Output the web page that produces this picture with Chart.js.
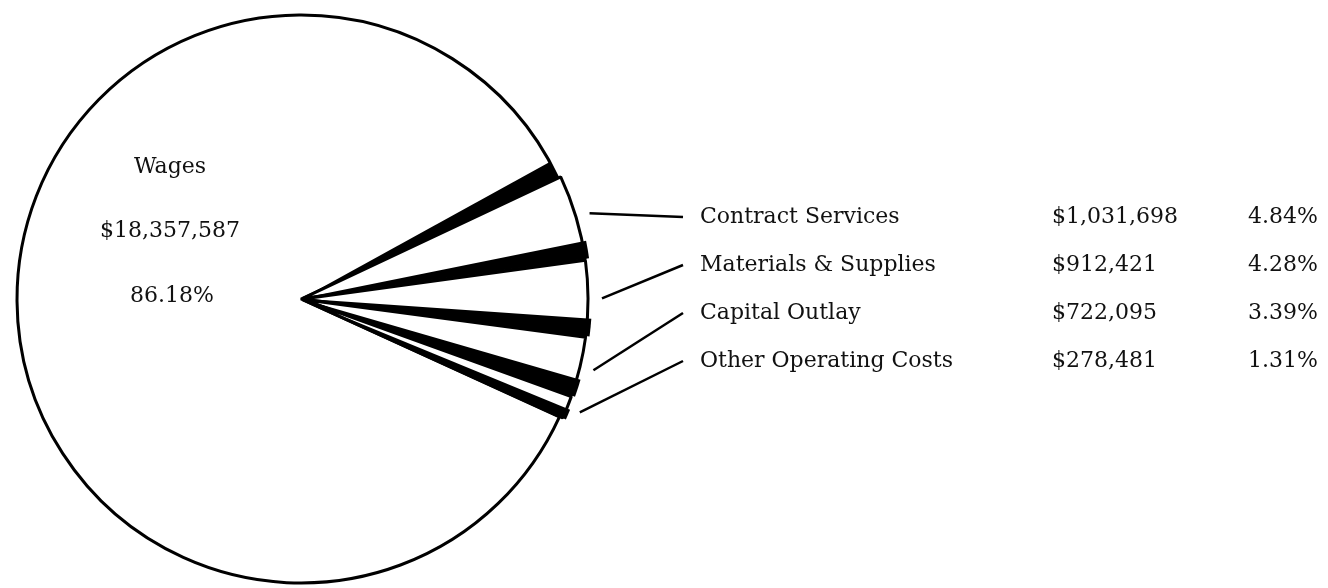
<!DOCTYPE html>
<html>
<head>
<meta charset="utf-8">
<script src="https://cdn.jsdelivr.net/npm/chart.js@4.4.0/dist/chart.umd.min.js"></script>
<style>
  body { margin: 0; background: #fff; }
  #wrap { width: 1328px; height: 588px; position: relative; }
</style>
</head>
<body>
<div id="wrap"><canvas id="pie-chart"></canvas></div>
<script>
// data
const categories = ['Wages', 'Contract Services', 'Materials & Supplies', 'Capital Outlay', 'Other Operating Costs'];
const amounts = [18357587, 1031698, 912421, 722095, 278481];
const percents = ['86.18', '4.84', '4.28', '3.39', '1.31'];

const FONT = "22px 'DejaVu Serif'";
const rowY = [217, 265, 313, 361];   // text rows for the small slices
const colX = [700, 1052, 1248];      // label / amount / percent columns
const sideBand = 3.6 * Math.PI / 180; // dark side face of each slice

function money(v) {
    return '$' + v.toLocaleString('en-US');
}

function sliceCenter(el) {
    var p = el.getProps(['x', 'y', 'startAngle', 'endAngle', 'outerRadius']);
    var off = el.options.offset || 0;
    var mid = (p.startAngle + p.endAngle) / 2;
    return {
        cx: p.x + Math.cos(mid) * off,
        cy: p.y + Math.sin(mid) * off,
        s: p.startAngle, e: p.endAngle, r: p.outerRadius, mid: mid
    };
}

// black side faces, like the shaded edges in the print
const sidesPlugin = {
    id: 'sides',
    afterDatasetsDraw(chart) {
        const ctx = chart.ctx;
        const arcs = chart.getDatasetMeta(0).data;
        ctx.save();
        ctx.fillStyle = '#000';
        arcs.forEach(el => {
            var g = sliceCenter(el);
            var band = Math.min(sideBand, (g.e - g.s) * 0.45);
            ctx.beginPath();
            ctx.moveTo(g.cx, g.cy);
            ctx.arc(g.cx, g.cy, g.r, g.e - band, g.e);
            ctx.closePath();
            ctx.fill();
        });
        ctx.restore();
    }
};

// text inside the big slice and the table to the right
const labelsPlugin = {
    id: 'labels',
    afterDraw(chart) {
        const ctx = chart.ctx;
        const arcs = chart.getDatasetMeta(0).data;
        ctx.save();
        ctx.font = FONT;
        ctx.fillStyle = '#111';
        ctx.textBaseline = 'middle';

        ctx.textAlign = 'center';
        ctx.fillText(categories[0], 170, 167);
        ctx.fillText(money(amounts[0]), 170, 231);
        ctx.fillText(percents[0] + '%', 172, 296);

        ctx.textAlign = 'left';
        ctx.strokeStyle = '#000';
        ctx.lineWidth = 2.5;
        for (var i = 1; i < categories.length; i++) {
            var g = sliceCenter(arcs[i]);
            var r0 = g.r + 10;
            ctx.beginPath();
            ctx.moveTo(g.cx + Math.cos(g.mid) * r0, g.cy + Math.sin(g.mid) * r0);
            ctx.lineTo(683, rowY[i - 1]);
            ctx.stroke();

            ctx.fillText(categories[i], colX[0], rowY[i - 1]);
            ctx.fillText(money(amounts[i]), colX[1], rowY[i - 1]);
            ctx.fillText(percents[i] + '%', colX[2], rowY[i - 1]);
        }
        ctx.restore();
    }
};

const data = {
    labels: categories,
    datasets: [{
        data: amounts,
        backgroundColor: '#fff',
        borderColor: '#000',
        borderWidth: 3,
        offset: [0, 7, 7, 7, 7]
    }]
};

const config = {
    type: 'pie',
    data: data,
    options: {
        responsive: true,
        maintainAspectRatio: false,
        animation: false,
        events: [],
        rotation: 114.5,
        layout: { padding: { left: 11, top: 10, right: 737, bottom: 0 } },
        plugins: {
            legend: { display: false },
            tooltip: { enabled: false }
        }
    },
    plugins: [sidesPlugin, labelsPlugin]
};

var myChart = new Chart(document.getElementById('pie-chart'), config);
</script>
</body>
</html>
